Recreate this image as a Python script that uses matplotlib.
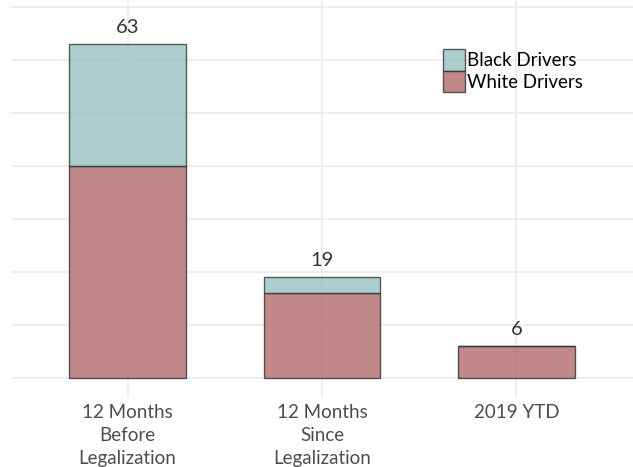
import numpy as np
import matplotlib
matplotlib.use("Agg")
import matplotlib.pyplot as plt
from matplotlib.patches import Patch

plt.rcParams["font.family"] = ["Lato", "DejaVu Sans"]

# data
categories = ["12 Months\nBefore\nLegalization", "12 Months\nSince\nLegalization", "2019 YTD"]
white = [40, 16, 6]
black = [23, 3, 0]
totals = [w + b for w, b in zip(white, black)]

white_col = "#b16b6a"
black_col = "#98c2c3"

fig = plt.figure(figsize=(6.33, 4.67), dpi=100)
ax = fig.add_axes([0.0174, 0.15, 0.9826, 0.85])

x = np.arange(1, len(categories) + 1)
ax.bar(x, white, width=0.6, color=white_col, alpha=0.8, edgecolor="#333333", linewidth=1, zorder=2)
ax.bar(x, black, width=0.6, bottom=white, color=black_col, alpha=0.8, edgecolor="#333333", linewidth=1, zorder=2)

for xi, t in zip(x, totals):
    ax.annotate(str(t), (xi, t), xytext=(0, 12), textcoords="offset points",
                ha="center", va="center", fontsize=14.5, color="#333333")

ax.set_xlim(0.4, 3.6)
ax.set_ylim(-3.6, 71.3)
ax.set_yticks(np.arange(0, 71, 10))
ax.set_yticklabels([])
ax.set_xticks(x)
ax.set_xticklabels(categories, fontsize=13.5, color="#4d4d4d", linespacing=1.45)
ax.tick_params(length=0, pad=5)
ax.grid(True, color="#ebebeb", linewidth=1.2, zorder=0)
ax.set_axisbelow(True)
for s in ax.spines.values():
    s.set_visible(False)

handles = [Patch(facecolor=black_col, alpha=0.8, edgecolor="#333333", linewidth=1),
           Patch(facecolor=white_col, alpha=0.8, edgecolor="#333333", linewidth=1)]
ax.legend(handles, ["Black Drivers", "White Drivers"], loc="upper left",
          bbox_to_anchor=(0.68, 0.90), frameon=False, fontsize=13.5,
          handlelength=1.15, handleheight=1.4, handletextpad=0.1, labelspacing=0.0,
          borderpad=0)

fig.savefig("out.png", dpi=100)
